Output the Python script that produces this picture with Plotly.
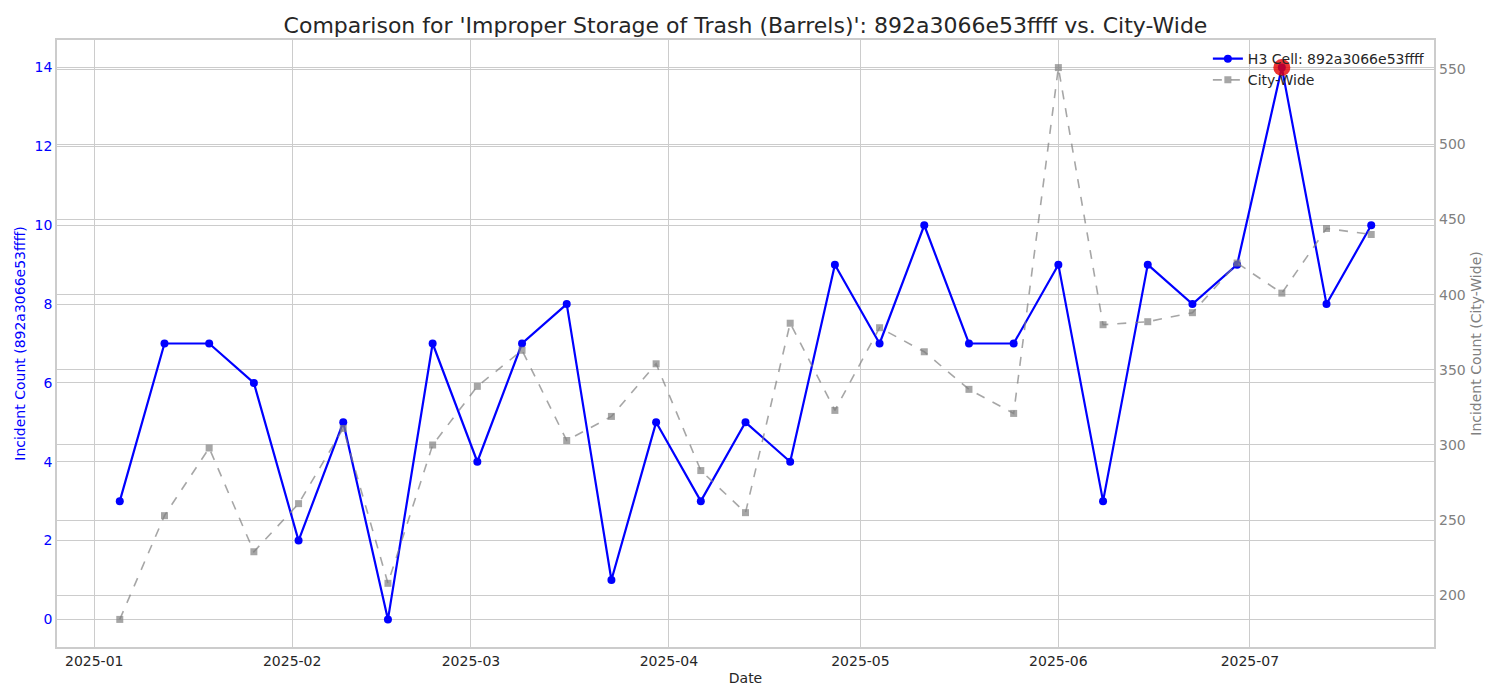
import plotly.graph_objects as go
import pandas as pd

dates = pd.date_range("2025-01-05", periods=29, freq="7D")
cell_counts = [3, 7, 7, 6, 2, 5, 0, 7, 4, 7, 8, 1, 5, 3, 5, 4, 9, 7, 10, 7, 7, 9, 3, 9, 8, 9, 14, 8, 10]
city_counts = [184, 253, 298, 229, 261, 311, 208, 300, 339, 363, 303, 319, 354, 283, 255, 381, 323, 378, 362, 337, 321, 551, 380, 382, 388, 421, 401, 444, 440]

cell_name = "892a3066e53ffff"
title = "Comparison for 'Improper Storage of Trash (Barrels)': 892a3066e53ffff vs. City-Wide"

max_idx = max(range(len(cell_counts)), key=lambda i: cell_counts[i])

FONT = "DejaVu Sans"
GRID = "#cccccc"

fig = go.Figure()
fig.add_trace(go.Scatter(
    x=dates, y=cell_counts, mode="lines+markers", name=f"H3 Cell: {cell_name}",
    line=dict(color="blue", width=2.2), marker=dict(color="blue", size=8, symbol="circle"),
    yaxis="y"))
fig.add_trace(go.Scatter(
    x=dates, y=city_counts, mode="lines+markers", name="City-Wide",
    line=dict(color="rgba(128,128,128,0.7)", width=1.6, dash="dash"),
    marker=dict(color="rgba(128,128,128,0.7)", size=7, symbol="square"),
    yaxis="y2"))
fig.add_trace(go.Scatter(
    x=[dates[max_idx]], y=[cell_counts[max_idx]], mode="markers", showlegend=False,
    marker=dict(color="rgba(230,0,0,0.8)", size=17, symbol="circle"),
    yaxis="y3"))

fig.update_layout(
    width=1500, height=700,
    paper_bgcolor="white", plot_bgcolor="white",
    margin=dict(l=49, r=74, t=32, b=61, autoexpand=False),
    font=dict(family=FONT, size=14, color="#262626"),
    title=dict(text=title, xref="paper", x=0.5, xanchor="center", y=0.986, yanchor="top",
               font=dict(size=22, color="#262626")),
    showlegend=True,
    legend=dict(x=0.997, y=0.995, xanchor="right", yanchor="top",
                bgcolor="rgba(0,0,0,0)", borderwidth=0,
                font=dict(size=14, color="#262626"), tracegroupgap=0),
    xaxis=dict(
        type="date", range=["2024-12-26 04:00", "2025-07-29 20:00"],
        tick0="2025-01-01", dtick="M1", tickformat="%Y-%m",
        showgrid=True, gridcolor=GRID, gridwidth=1, zeroline=False,
        showline=True, linecolor=GRID, linewidth=1.5, mirror=True,
        ticks="", tickfont=dict(size=14, color="#262626"),
        title=dict(text="Date", font=dict(size=14, color="#262626"), standoff=6)),
    yaxis=dict(
        range=[-0.7, 14.7], tick0=0, dtick=2,
        showgrid=True, gridcolor=GRID, gridwidth=1, zeroline=False,
        showline=True, linecolor=GRID, linewidth=1.5, mirror=True,
        ticks="", tickfont=dict(size=14, color="blue"),
        title=dict(text=f"Incident Count ({cell_name})", font=dict(size=14, color="blue"), standoff=6)),
    yaxis2=dict(
        range=[165.65, 569.35], tick0=200, dtick=50, overlaying="y", side="right",
        showgrid=True, gridcolor=GRID, gridwidth=1, zeroline=False,
        showline=False, ticks="", tickfont=dict(size=14, color="gray"),
        ticklabelstandoff=4,
        title=dict(text="Incident Count (City-Wide)", font=dict(size=14, color="gray"), standoff=6)),
    yaxis3=dict(
        range=[-0.7, 14.7], overlaying="y", side="left", visible=False,
        showgrid=False, zeroline=False),
)

fig.write_html("out.html")
